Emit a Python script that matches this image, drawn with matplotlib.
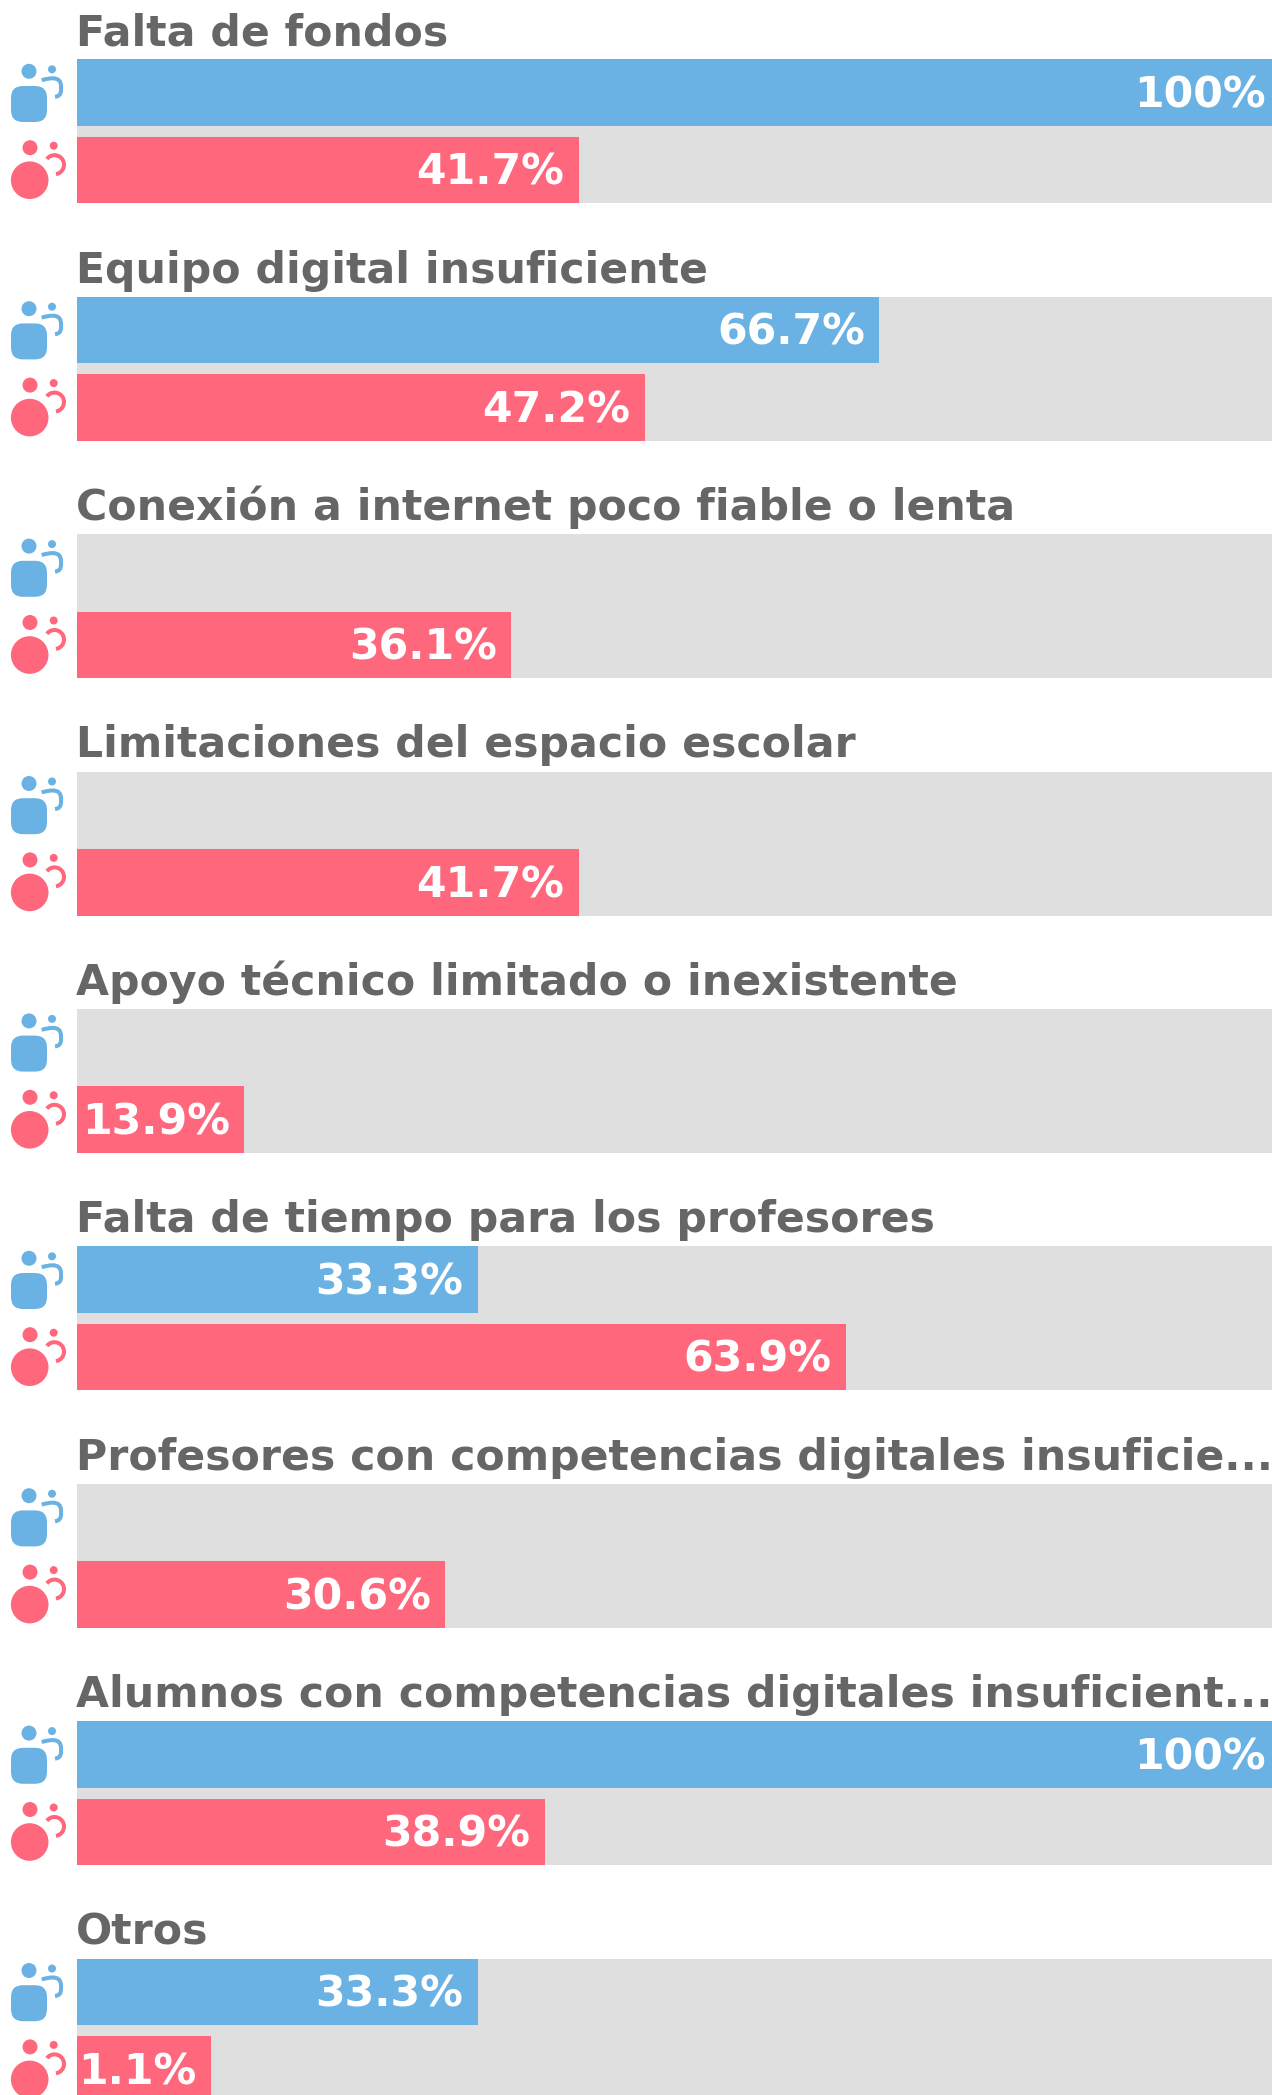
import matplotlib
matplotlib.use("Agg")
import matplotlib.pyplot as plt
from matplotlib.patches import Circle, FancyBboxPatch, PathPatch, Arc
from matplotlib.path import Path

categories = ["Falta de fondos", "Equipo digital insuficiente",
              "Conexión a internet poco fiable o lenta",
              "Limitaciones del espacio escolar",
              "Apoyo técnico limitado o inexistente",
              "Falta de tiempo para los profesores",
              "Profesores con competencias digitales insuficie...",
              "Alumnos con competencias digitales insuficient...",
              "Otros"]
blue_values = [100, 66.7, None, None, None, 33.3, None, 100, 33.3]
red_values = [41.7, 47.2, 36.1, 41.7, 13.9, 63.9, 30.6, 38.9, 11.1]
blue_labels = ["100%", "66.7%", "", "", "", "33.3%", "", "100%", "33.3%"]
red_labels = ["41.7%", "47.2%", "36.1%", "41.7%", "13.9%", "63.9%", "30.6%", "38.9%", "1.1%"]

BLUE, RED, GRAY, TXT = "#6ab2e3", "#ff677d", "#dfdfdf", "#666666"
W, H = 1272, 2095
PERIOD, TOP, BAR_H, GAP = 237.4, 59.3, 66.7, 10.7
X0, SPAN = 77, 1203
FS = 30.7

fig = plt.figure(figsize=(W / 100, H / 100), dpi=100, facecolor="white")
ov = fig.add_axes([0, 0, 1, 1]); ov.set_xlim(0, W); ov.set_ylim(H, 0); ov.axis("off")
ax = fig.add_axes([X0 / W, 0, SPAN / W, 1]); ax.set_xlim(0, 100); ax.set_ylim(H, 0); ax.axis("off")
ax.patch.set_alpha(0)


def icon(y, color, round_body):
    ov.add_patch(Circle((29 if not round_body else 30, y + 12), 7.5, fc=color, ec="none"))
    ov.add_patch(Circle((52 if not round_body else 53.7, y + 10), 4, fc=color, ec="none"))
    if round_body:
        ov.add_patch(Circle((29.7, y + 44.5), 18.8, fc=color, ec="none"))
        ov.add_patch(Arc((54.5, y + 29), 19, 19, angle=0, theta1=-143, theta2=81, ec=color, lw=2.9))
    else:
        ov.add_patch(FancyBboxPatch((23, y + 38.7), 12, 12, boxstyle="round,pad=12,rounding_size=12",
                                    fc=color, ec="none"))
        verts = [(41.7, y + 21), (47, y + 19), (53, y + 19), (61, y + 19), (61, y + 27),
                 (61, y + 31), (61, y + 37), (55, y + 37.5)]
        codes = [Path.MOVETO, Path.CURVE3, Path.CURVE3, Path.CURVE3, Path.CURVE3,
                 Path.LINETO, Path.CURVE3, Path.CURVE3]
        ov.add_patch(PathPatch(Path(verts, codes), fc="none", ec=color, lw=2.9))


for i, name in enumerate(categories):
    y0 = TOP + i * PERIOD
    y1 = y0 + BAR_H + GAP
    ov.text(76, y0 - 14, name, fontsize=FS, fontweight="bold", color=TXT, va="baseline", ha="left")
    ax.barh(y0 + (2 * BAR_H + GAP) / 2, 100, height=2 * BAR_H + GAP, left=0, color=GRAY, linewidth=0)
    icon(y0, BLUE, False)
    icon(y1 - 1, RED, True)
    for y, v, lab, c in ((y0, blue_values[i], blue_labels[i], BLUE), (y1, red_values[i], red_labels[i], RED)):
        if v is None:
            continue
        ax.barh(y + BAR_H / 2, v, height=BAR_H, left=0, color=c, linewidth=0)
        ov.text(X0 + SPAN * v / 100 - 14.5, y + BAR_H / 2 + 14.8, lab, fontsize=FS,
                fontweight="bold", color="white", ha="right", va="baseline", zorder=5)

ov.set_zorder(2); ax.set_zorder(1)
fig.savefig("out.png", dpi=100, facecolor="white")
